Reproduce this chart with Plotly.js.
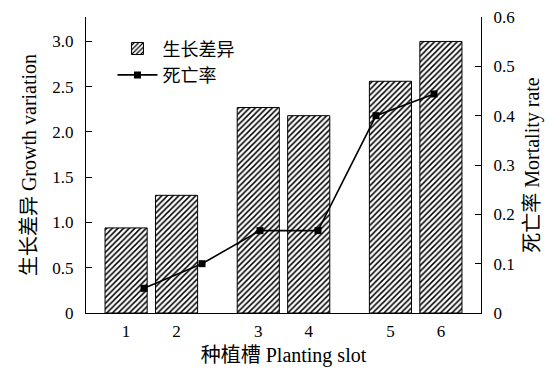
<!DOCTYPE html>
<html>
<head>
<meta charset="utf-8">
<script src="https://cdn.plot.ly/plotly-3.0.1.min.js"></script>
<style>html,body{margin:0;padding:0;background:#fff;}#chart{width:549px;height:371px;}</style>
</head>
<body>
<div id="chart"></div>
<script>
// Data
const slots = ['1', '2', '3', '4', '5', '6'];
const growthVariation = [0.94, 1.30, 2.27, 2.18, 2.56, 3.00];
const mortalityRate = [0.05, 0.10, 0.167, 0.167, 0.40, 0.444];
const growthTicks = [0, 0.5, 1.0, 1.5, 2.0, 2.5, 3.0];
const growthTickText = ['0', '0.5', '1.0', '1.5', '2.0', '2.5', '3.0'];
const mortTicks = [0, 0.1, 0.2, 0.3, 0.4, 0.5, 0.6];
const mortTickText = ['0', '0.1', '0.2', '0.3', '0.4', '0.5', '0.6'];

// Layout: slots are drawn in pairs with a wider gap between pairs
const pairGap = 0.62;
const barPos = slots.map((s, i) => 1 + i + Math.floor(i / 2) * pairGap);
const linePos = slots.map((s, i) => i + 1);

const FONT = 'Liberation Serif, "Times New Roman", "Noto Sans CJK SC", serif';

const bars = {
  type: 'bar',
  name: '生长差异',
  x: barPos,
  y: growthVariation,
  width: 0.835,
  xaxis: 'x',
  yaxis: 'y',
  marker: {
    color: '#ffffff',
    line: {color: '#000000', width: 1},
    pattern: {shape: '/', fgcolor: '#000000', bgcolor: '#ffffff', size: 4, solidity: 0.38}
  },
  hoverinfo: 'skip'
};

const line = {
  type: 'scatter',
  mode: 'lines+markers',
  name: '死亡率',
  x: linePos,
  y: mortalityRate,
  xaxis: 'x2',
  yaxis: 'y2',
  line: {color: '#000000', width: 1.6},
  marker: {symbol: 'square', size: 7, color: '#000000'},
  hoverinfo: 'skip'
};

const layout = {
  width: 549,
  height: 371,
  margin: {l: 86, r: 68, t: 17, b: 58, pad: 0},
  paper_bgcolor: '#ffffff',
  plot_bgcolor: '#ffffff',
  font: {family: FONT, color: '#000000', size: 17},
  showlegend: true,
  legend: {
    x: 0.067, y: 0.955, xanchor: 'left', yanchor: 'top',
    bgcolor: 'rgba(0,0,0,0)', borderwidth: 0,
    font: {family: FONT, size: 18, color: '#000000'},
    itemwidth: 40,
    tracegroupgap: 0
  },
  xaxis: {
    range: [barPos[0] - 0.795, barPos[5] + 0.795],
    tickvals: barPos,
    ticktext: slots,
    ticks: '',
    showline: true, linecolor: '#000000', linewidth: 1.2,
    showgrid: false, zeroline: false,
    ticklabelstandoff: 2,
    tickfont: {family: FONT, size: 17},
    title: {text: '种植槽 Planting slot', font: {family: FONT, size: 20}, standoff: 8}
  },
  xaxis2: {
    overlaying: 'x',
    range: [0, 6.81],
    visible: false,
    showgrid: false, zeroline: false
  },
  yaxis: {
    range: [0, 3.27],
    tickvals: growthTicks,
    ticktext: growthTickText,
    ticks: 'inside', ticklen: 6, tickcolor: '#000000', tickwidth: 1,
    showline: true, linecolor: '#000000', linewidth: 1.2,
    showgrid: false, zeroline: false,
    ticklabelstandoff: 8,
    tickfont: {family: FONT, size: 17},
    title: {text: '生长差异 Growth variation', font: {family: FONT, size: 20}, standoff: 10}
  },
  yaxis2: {
    overlaying: 'y',
    side: 'right',
    anchor: 'x',
    range: [0, 0.6],
    tickvals: mortTicks,
    ticktext: mortTickText,
    ticks: 'inside', ticklen: 6, tickcolor: '#000000', tickwidth: 1,
    showline: true, linecolor: '#000000', linewidth: 1.2,
    showgrid: false, zeroline: false,
    ticklabelstandoff: 8,
    tickfont: {family: FONT, size: 17},
    title: {text: '死亡率 Mortality rate', font: {family: FONT, size: 20}, standoff: 10}
  }
};

Plotly.newPlot('chart', [bars, line], layout, {staticPlot: true, displayModeBar: false});
</script>
</body>
</html>
